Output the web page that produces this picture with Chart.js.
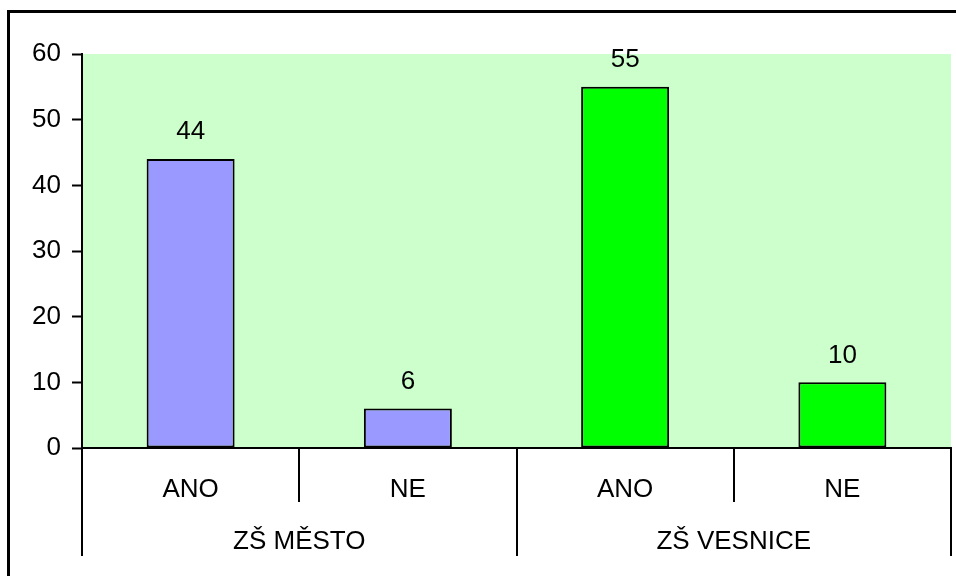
<!DOCTYPE html>
<html>
<head>
<meta charset="utf-8">
<script src="https://cdn.jsdelivr.net/npm/chart.js@4"></script>
<style>
  html, body { margin: 0; padding: 0; overflow: hidden; background: #fff; }
  #wrap { position: relative; width: 956px; height: 576px; }
  #frame { position: absolute; left: 7px; top: 10px; width: 1000px; height: 700px;
           border: 3px solid #000; pointer-events: none; }
</style>
</head>
<body>
<div id="wrap">
  <canvas id="myChart" width="956" height="576"></canvas>
  <div id="frame"></div>
</div>
<script>
// Data for the chart
const labels = ['ANO', 'NE', 'ANO', 'NE'];
const groups = ['ZŠ MĚSTO', 'ZŠ VESNICE'];
const groupSize = [2, 2];
const values = [44, 6, 55, 10];
const barColors = ['#9999FF', '#9999FF', '#00FF00', '#00FF00'];
const yTicks = [0, 10, 20, 30, 40, 50, 60];

const FONT = 'Liberation Sans, Arial, sans-serif';
const FSIZE = 26;

// green plot background
const plotBg = {
    id: 'plotBg',
    beforeDraw(chart) {
        const a = chart.chartArea;
        const ctx = chart.ctx;
        ctx.save();
        ctx.fillStyle = '#CCFFCC';
        ctx.fillRect(a.left, a.top, a.right - a.left, a.bottom - a.top);
        ctx.restore();
    }
};

// value labels above bars
const valueLabels = {
    id: 'valueLabels',
    afterDatasetsDraw(chart) {
        const ctx = chart.ctx;
        const meta = chart.getDatasetMeta(0);
        ctx.save();
        ctx.font = FSIZE + 'px ' + FONT;
        ctx.fillStyle = '#000';
        ctx.textAlign = 'center';
        ctx.textBaseline = 'middle';
        meta.data.forEach((bar, i) => {
            ctx.fillText(values[i], bar.x, bar.y - 27);
        });
        ctx.restore();
    }
};

// category separators and group labels under the x axis
const groupAxis = {
    id: 'groupAxis',
    afterDraw(chart) {
        const ctx = chart.ctx;
        const x = chart.scales.x;
        const half = (x.right - x.left) / labels.length / 2;
        const base = x.top;
        ctx.save();
        ctx.strokeStyle = '#000';
        ctx.lineWidth = 2;
        // minor separators
        for (let i = 1; i < labels.length; i++) {
            const px = Math.round(x.getPixelForValue(i) - half);
            ctx.beginPath();
            ctx.moveTo(px, base);
            ctx.lineTo(px, base + 54);
            ctx.stroke();
        }
        // major separators and group labels
        ctx.font = FSIZE + 'px ' + FONT;
        ctx.fillStyle = '#000';
        ctx.textAlign = 'center';
        ctx.textBaseline = 'middle';
        let start = 0;
        groups.forEach((g, gi) => {
            const end = start + groupSize[gi] - 1;
            const l = x.getPixelForValue(start) - half;
            const r = x.getPixelForValue(end) + half;
            [l, r].forEach(px => {
                ctx.beginPath();
                ctx.moveTo(Math.round(px), base);
                ctx.lineTo(Math.round(px), base + 108);
                ctx.stroke();
            });
            ctx.fillText(g, (l + r) / 2, base + 94);
            start = end + 1;
        });
        ctx.restore();
    }
};

const ctx = document.getElementById('myChart').getContext('2d');
const chart = new Chart(ctx, {
    type: 'bar',
    data: {
        labels: labels,
        datasets: [{
            data: values,
            backgroundColor: barColors,
            borderColor: '#000',
            borderWidth: 2,
            borderSkipped: false,
            categoryPercentage: 1,
            barPercentage: 0.405
        }]
    },
    options: {
        responsive: false,
        animation: false,
        events: [],
        layout: { padding: { left: 0, right: 5, top: 54, bottom: 0 } },
        plugins: {
            legend: { display: false },
            tooltip: { enabled: false }
        },
        scales: {
            x: {
                offset: true,
                grid: { display: false },
                border: { display: true, color: '#000', width: 2 },
                ticks: {
                    color: '#000',
                    font: { family: FONT, size: FSIZE },
                    padding: 18,
                    maxRotation: 0
                },
                afterFit(scale) { scale.height = 128; }
            },
            y: {
                min: 0,
                max: 60,
                afterBuildTicks(scale) { scale.ticks = yTicks.map(v => ({ value: v })); },
                grid: {
                    drawOnChartArea: false,
                    drawTicks: true,
                    tickLength: 10,
                    tickWidth: 2,
                    color: '#000'
                },
                border: { display: true, color: '#000', width: 2 },
                ticks: {
                    color: '#000',
                    font: { family: FONT, size: FSIZE },
                    padding: 11
                },
                afterFit(scale) { scale.width = 82; }
            }
        }
    },
    plugins: [plotBg, valueLabels, groupAxis]
});
</script>
</body>
</html>
